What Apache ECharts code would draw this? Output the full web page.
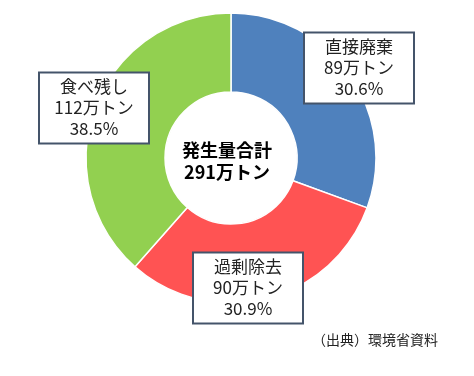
<!DOCTYPE html>
<html>
<head>
<meta charset="UTF-8"/>
<title></title>
<script src="https://cdn.jsdelivr.net/npm/echarts@6/dist/echarts.min.js"></script>
<style>
  html, body { margin: 0; padding: 0; background: #fff; }
  #chart { width: 474px; height: 376px; }
</style>
</head>
<body>
<div id="chart"></div>
<script type="text/javascript">
  // data
  var names = ['直接廃棄', '過剰除去', '食べ残し'];
  var values = [89, 90, 112];
  var colors = ['#4f81bd', '#ff5353', '#92d050'];
  var totalLabel = ['発生量合計', '291万トン'];
  var sourceText = '（出典）環境省資料';

  // where each label box sits (box centre)
  var labelPos = [[359, 68], [248, 288], [94, 108]];

  var pieData = [];
  for (var i = 0; i < names.length; i++) {
    pieData.push({ name: names[i], value: values[i], itemStyle: { color: colors[i] } });
  }

  var myChart = echarts.init(document.getElementById('chart'));
  var option = {
    animation: false,
    backgroundColor: '#fff',
    textStyle: { fontFamily: '"Noto Sans CJK JP", sans-serif' },
    series: [{
      type: 'pie',
      center: [231, 158],
      radius: [66, 145],
      startAngle: 90,
      clockwise: true,
      silent: true,
      itemStyle: { borderColor: '#fff', borderWidth: 1.5 },
      label: {
        show: true,
        position: 'inside',
        formatter: function (p) {
          return p.name + '\n' + p.value + '万トン\n' + p.percent.toFixed(1) + '%';
        },
        color: '#222',
        fontSize: 17,
        lineHeight: 21,
        width: 78,
        overflow: 'none',
        fontFamily: '"Noto Sans CJK JP", sans-serif',
        backgroundColor: '#fff',
        borderColor: '#44546a',
        borderWidth: 2,
        padding: [4, 15, 2, 15],
        align: 'center'
      },
      labelLine: { show: false },
      labelLayout: function (params) {
        var pos = labelPos[params.dataIndex];
        return { x: pos[0], y: pos[1], align: 'center', verticalAlign: 'middle' };
      },
      data: pieData
    }],
    graphic: [
      {
        type: 'text',
        style: {
          x: 227, y: 161,
          text: totalLabel.join('\n'),
          fontSize: 18,
          lineHeight: 22,
          fontWeight: 'bold',
          fill: '#000',
          align: 'center',
          verticalAlign: 'middle',
          fontFamily: '"Noto Sans CJK JP", sans-serif'
        }
      },
      {
        type: 'text',
        style: {
          x: 438, y: 340,
          text: sourceText,
          fontSize: 14,
          fill: '#222',
          align: 'right',
          verticalAlign: 'middle',
          fontFamily: '"Noto Sans CJK JP", sans-serif'
        }
      }
    ]
  };
  myChart.setOption(option);
</script>
</body>
</html>
